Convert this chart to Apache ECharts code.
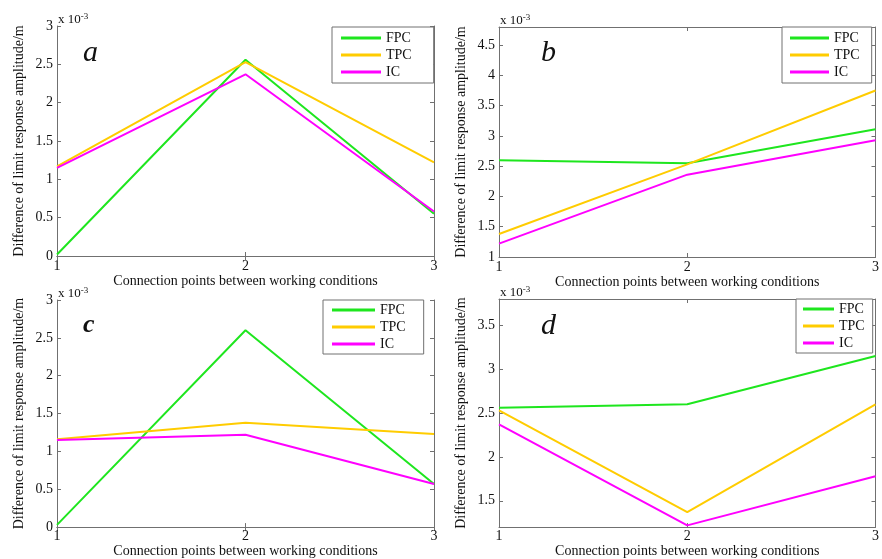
<!DOCTYPE html>
<html><head><meta charset="utf-8">
<script src="https://cdn.jsdelivr.net/npm/echarts@6/dist/echarts.min.js"></script>
<style>html,body{margin:0;padding:0;background:#fff}#c{width:882px;height:559px}</style>
</head><body><div id="c"></div>
<script>
// ---- data ----
const categories = ['1', '2', '3'];
const seriesNames = ['FPC', 'TPC', 'IC'];
const panelLetters = ['a', 'b', 'c', 'd'];
const xTitle = 'Connection points between working conditions';
const yTitle = 'Difference of limit response amplitude/m';
const aFPC = [0.02, 2.56, 0.55];
const aTPC = [1.17, 2.53, 1.22];
const aIC  = [1.15, 2.37, 0.58];
const bFPC = [2.60, 2.55, 3.11];
const bTPC = [1.38, 2.53, 3.75];
const bIC  = [1.22, 2.36, 2.93];
const cFPC = [0.03, 2.60, 0.57];
const cTPC = [1.16, 1.38, 1.23];
const cIC  = [1.15, 1.22, 0.57];
const dFPC = [2.56, 2.60, 3.15];
const dTPC = [2.53, 1.37, 2.60];
const dIC  = [2.37, 1.22, 1.78];
// y ranges [min, max] in units of 1e-3, and tick labels
const aY = [0, 3];
const bY = [1, 4.8];
const cY = [0, 3];
const dY = [1.2, 3.8];
const aTicks = [0, 0.5, 1, 1.5, 2, 2.5, 3];
const bTicks = [1, 1.5, 2, 2.5, 3, 3.5, 4, 4.5];
const cTicks = [0, 0.5, 1, 1.5, 2, 2.5, 3];
const dTicks = [1.5, 2, 2.5, 3, 3.5];

// ---- layout / style ----
const FONT = "'Liberation Serif','Times New Roman',serif";
const colors = ['#1ee61e', '#ffcc00', '#ff00ff'];
const axisGray = '#707070';
const panels = [
  {data:[aFPC,aTPC,aIC], y:aY, ticks:aTicks, grid:{left:57,top:26,right:448,bottom:303}, lm:3, ng:15,
   legend:{left:332,top:27,pad:[3,22,3,9],iw:40}, letter:{x:83,y:38,size:30,bold:false}},
  {data:[bFPC,bTPC,bIC], y:bY, ticks:bTicks, grid:{left:499,top:27,right:4,bottom:302}, lm:3, ng:15,
   legend:{left:782,top:27,pad:[3,12,3,8],iw:39}, letter:{x:541,y:38,size:30,bold:false}},
  {data:[cFPC,cTPC,cIC], y:cY, ticks:cTicks, grid:{left:57,top:300,right:448,bottom:28}, lm:2, ng:11,
   legend:{left:323,top:300,pad:[2,18,2,9],iw:43}, letter:{x:83,y:312,size:26,bold:true}},
  {data:[dFPC,dTPC,dIC], y:dY, ticks:dTicks, grid:{left:499,top:299,right:4,bottom:29}, lm:2, ng:11,
   legend:{left:796,top:299,pad:[2,8,2,7],iw:31}, letter:{x:541,y:311,size:30,bold:false}}
];

const grid=[], xAxis=[], yAxis=[], series=[], legend=[], graphic=[];
panels.forEach((p, i) => {
  grid.push(Object.assign({containLabel:false}, p.grid));
  const lineStyle = {color: axisGray, width: 1};
  xAxis.push({type:'category', gridIndex:i, data:categories, boundaryGap:false,
    axisLine:{lineStyle}, axisTick:{inside:true, length:4, lineStyle, alignWithLabel:true},
    axisLabel:{color:'#111', fontFamily:FONT, fontSize:14, margin:p.lm},
    splitLine:{show:false},
    name:xTitle, nameLocation:'middle', nameGap:p.ng,
    nameTextStyle:{color:'#111', fontFamily:FONT, fontSize:14}});
  xAxis.push({type:'category', gridIndex:i, data:categories, boundaryGap:false, position:'top',
    axisLine:{lineStyle}, axisTick:{inside:true, length:4, lineStyle},
    axisLabel:{show:false}, splitLine:{show:false}});
  const yr = {min:p.y[0], max:p.y[1]};
  yAxis.push(Object.assign({type:'value', gridIndex:i,
    axisLine:{show:true, lineStyle},
    axisTick:{show:true, inside:true, length:4, lineStyle, customValues:p.ticks},
    axisLabel:{color:'#111', fontFamily:FONT, fontSize:14, margin:4, customValues:p.ticks,
      formatter:(v) => String(Math.round(v*100)/100)},
    splitLine:{show:false},
    name:yTitle, nameLocation:'middle', nameGap:31, nameRotate:90,
    nameTextStyle:{color:'#111', fontFamily:FONT, fontSize:14}}, yr));
  yAxis.push(Object.assign({type:'value', gridIndex:i, position:'right',
    axisLine:{show:true, lineStyle},
    axisTick:{show:true, inside:true, length:4, lineStyle, customValues:p.ticks},
    axisLabel:{show:false, customValues:p.ticks}, splitLine:{show:false}}, yr));
  p.data.forEach((d, k) => {
    series.push({type:'line', name:seriesNames[k], xAxisIndex:2*i, yAxisIndex:2*i,
      data:d, symbol:'none', smooth:false, animation:false,
      lineStyle:{color:colors[k], width:2}, itemStyle:{color:colors[k]}, z:3});
  });
  legend.push({
    data: seriesNames.map((n, k) => ({name:n, itemStyle:{color:colors[k]}})),
    orient:'vertical', left:p.legend.left, top:p.legend.top,
    padding:p.legend.pad, itemGap:1, itemWidth:p.legend.iw, itemHeight:3, icon:'rect',
    borderColor:axisGray, borderWidth:1, backgroundColor:'#fff',
    textStyle:{color:'#111', fontFamily:FONT, fontSize:14, lineHeight:16},
    selectedMode:false
  });
  graphic.push({type:'text', left:p.grid.left + 1, top:p.grid.top - 14,
    style:{text:'x 10{s|-3}', fontFamily:FONT, fontSize:13, fill:'#111',
      rich:{s:{fontFamily:FONT, fontSize:9, verticalAlign:'top', padding:[0,0,6,0], fill:'#111'}}}});
  graphic.push({type:'text', left:p.letter.x, top:p.letter.y,
    style:{text:panelLetters[i], fontFamily:FONT, fontSize:p.letter.size, fontStyle:'italic',
      fontWeight:p.letter.bold ? 'bold' : 'normal', fill:'#111'}});
});

const chart = echarts.init(document.getElementById('c'), null, {renderer:'canvas'});
chart.setOption({animation:false, backgroundColor:'#fff', grid, xAxis, yAxis, series, legend, graphic});
</script>
</body></html>
